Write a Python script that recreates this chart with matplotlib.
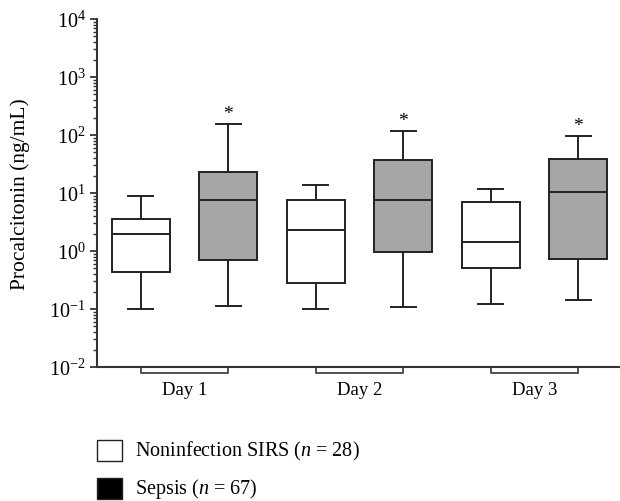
import matplotlib
matplotlib.use("Agg")
import matplotlib.pyplot as plt
from matplotlib.patches import Rectangle
from matplotlib.ticker import LogLocator, LogFormatterSciNotation, NullFormatter
import matplotlib.transforms as mtransforms

plt.rcParams['font.family'] = ['Liberation Serif', 'DejaVu Serif']
plt.rcParams['mathtext.fontset'] = 'custom'
plt.rcParams['mathtext.rm'] = 'Liberation Serif'
plt.rcParams['mathtext.it'] = 'Liberation Serif:italic'

# box statistics (ng/mL), order: Day1 SIRS, Day1 Sepsis, ...
days = ["Day 1", "Day 2", "Day 3"]
groups = ["Noninfection SIRS", "Sepsis"]
whislo = [0.10, 0.113, 0.102, 0.11, 0.12, 0.145]
q1 = [0.44, 0.69, 0.284, 0.95, 0.50, 0.73]
med = [2.0, 7.6, 2.27, 7.5, 1.45, 10.5]
q3 = [3.55, 23.3, 7.7, 37.0, 6.9, 39.0]
whishi = [8.9, 152.0, 13.9, 117.0, 11.6, 95.0]
significant = [False, True, False, True, False, True]

fills = ["white", "#a6a6a6"]
edge = "#222222"

fig = plt.figure(figsize=(6.2, 5.02), dpi=100)
ax = fig.add_axes([97 / 620, 1 - 368 / 502, 1 - 97 / 620, (368 - 20) / 502])

stats = []
for i in range(len(med)):
    stats.append(dict(whislo=whislo[i], q1=q1[i], med=med[i], q3=q3[i],
                      whishi=whishi[i], fliers=[]))
positions = list(range(1, len(stats) + 1))

bp = ax.bxp(stats, positions=positions, widths=0.664, patch_artist=True,
            showfliers=False, capwidths=0.286,
            boxprops=dict(edgecolor=edge, linewidth=1.4),
            medianprops=dict(color=edge, linewidth=1.4),
            whiskerprops=dict(color=edge, linewidth=1.4),
            capprops=dict(color=edge, linewidth=1.4))
for i, patch in enumerate(bp['boxes']):
    patch.set_facecolor(fills[i % 2])

for i, sig in enumerate(significant):
    if sig:
        ax.annotate("*", xy=(positions[i], whishi[i]), xytext=(0, 1.5),
                    textcoords="offset points", ha="center", va="bottom",
                    fontsize=14)

ax.set_yscale("log")
ax.set_ylim(1e-2, 1e4)
ax.set_xlim(0.497, 6.48)
ax.yaxis.set_major_locator(LogLocator(base=10, numticks=10))
ax.yaxis.set_minor_locator(LogLocator(base=10, subs=range(2, 10), numticks=10))
ax.yaxis.set_major_formatter(LogFormatterSciNotation())
ax.yaxis.set_minor_formatter(NullFormatter())
ax.tick_params(axis='y', which='major', length=5, width=1.3, color="#333333",
               labelsize=14.5, pad=3)
ax.tick_params(axis='y', which='minor', length=3, width=1.0, color="#333333")

day_pos = [(positions[2 * k] + positions[2 * k + 1]) / 2 for k in range(len(days))]
ax.set_xticks(day_pos)
ax.set_xticklabels(days, fontsize=13.5)
ax.tick_params(axis='x', length=0, pad=10)

for s in ["top", "right"]:
    ax.spines[s].set_visible(False)
for s in ["left", "bottom"]:
    ax.spines[s].set_linewidth(1.5)
    ax.spines[s].set_color("#333333")

ax.set_ylabel("Procalcitonin (ng/mL)", fontsize=15.5)
ax.yaxis.set_label_coords(-0.128, 0.5)

# group brackets under the x axis
trans = mtransforms.blended_transform_factory(ax.transData, ax.transAxes)
for k in range(len(days)):
    xa, xb = positions[2 * k], positions[2 * k + 1]
    ax.plot([xa, xa, xb, xb], [0, -0.018, -0.018, 0], transform=trans,
            color="#444444", linewidth=1.3, clip_on=False)

# legend
leg_y = [1 - 462 / 502, 1 - 500 / 502]
leg_labels = ["Noninfection SIRS ($n$ = 28)", "Sepsis ($n$ = 67)"]
leg_colors = ["white", "black"]
for y0, lab, c in zip(leg_y, leg_labels, leg_colors):
    fig.add_artist(Rectangle((97 / 620, y0), 25 / 620, 21 / 502,
                             transform=fig.transFigure, facecolor=c,
                             edgecolor="#222222", linewidth=1.0))
    fig.text(135 / 620, y0 + 10.5 / 502, lab, fontsize=14.5, va="center",
             ha="left")

fig.savefig("out.png", dpi=100)
